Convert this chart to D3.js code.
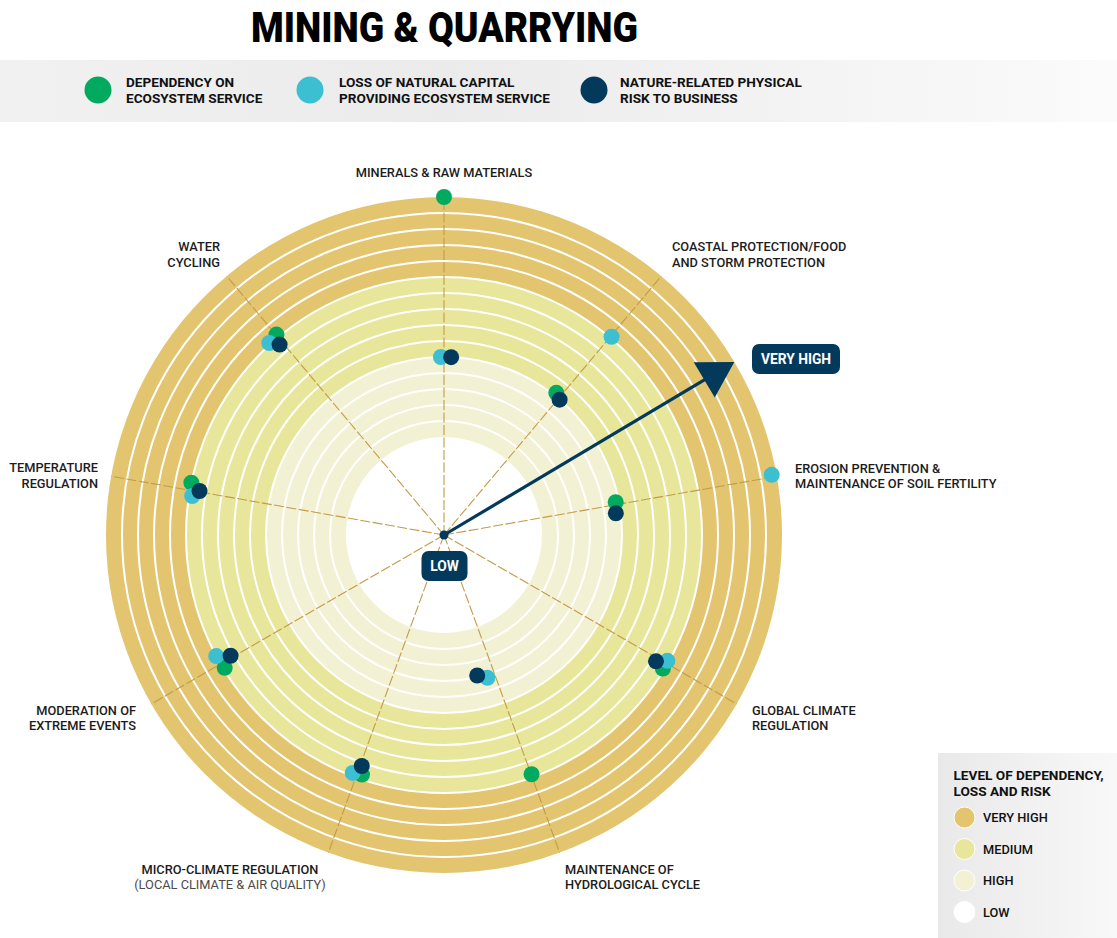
<!DOCTYPE html>
<html>
<head>
<meta charset="utf-8">
<script src="https://cdn.jsdelivr.net/npm/d3@7"></script>
<style>
  html, body { margin: 0; padding: 0; background: #ffffff; }
  svg { display: block; font-family: Roboto, "Noto Sans", Arial, sans-serif; }
</style>
</head>
<body>
<svg id="chart" width="1117" height="938"></svg>
<script>
// ---- Data -------------------------------------------------------------
const title = "MINING & QUARRYING";

// Ecosystem services, clockwise from the top
const categories = [
  ["MINERALS & RAW MATERIALS"],
  ["COASTAL PROTECTION/FOOD", "AND STORM PROTECTION"],
  ["EROSION PREVENTION &", "MAINTENANCE OF SOIL FERTILITY"],
  ["GLOBAL CLIMATE", "REGULATION"],
  ["MAINTENANCE OF", "HYDROLOGICAL CYCLE"],
  ["MICRO-CLIMATE REGULATION", "(LOCAL CLIMATE & AIR QUALITY)"],
  ["MODERATION OF", "EXTREME EVENTS"],
  ["TEMPERATURE", "REGULATION"],
  ["WATER", "CYCLING"]
];

// Level on the 0–15 ring scale (0 = edge of LOW core, 15 = outer edge of VERY HIGH)
const dependency = [15.0, 5.2, 4.8, 9.9, 9.8, 9.7, 9.9, 10.0, 10.2];
const loss       = [5.0, 10.1, 14.7, 9.9, 3.2, 9.8, 10.0, 9.8, 10.1];
const risk       = [5.0, 5.0, 4.7, 9.3, 2.9, 9.2, 9.2, 9.4, 9.6];

// Small angular spread (degrees) so overlapping markers stay visible
const dependencyShift = [0.0, -1.7, -0.8, 1.4, -0.1, -1.1, -1.2, 1.7, 0.1];
const lossShift       = [-1.0, 0.2, -0.4, -0.6, 3.1, 1.0, 2.0, -1.2, -2.3];
const riskShift       = [2.3, 0.5, 2.8, 0.8, 6.7, -0.4, 0.5, 0.2, -0.8];

const seriesNames = [
  ["DEPENDENCY ON", "ECOSYSTEM SERVICE"],
  ["LOSS OF NATURAL CAPITAL", "PROVIDING ECOSYSTEM SERVICE"],
  ["NATURE-RELATED PHYSICAL", "RISK TO BUSINESS"]
];

// Level bands on the ring scale
const bandNames = ["HIGH", "MEDIUM", "VERY HIGH"];
const bandStarts = [0, 5, 10];
const bandEnds = [5, 10, 15];
const levelLegend = ["VERY HIGH", "MEDIUM", "HIGH", "LOW"];
const legendTitle = ["LEVEL OF DEPENDENCY,", "LOSS AND RISK"];

// ---- Styles -----------------------------------------------------------
const seriesColors = ["#02aa60", "#3cbfd1", "#033a5c"];
const bandColors = { "LOW": "#ffffff", "HIGH": "#f3f1d3", "MEDIUM": "#e8e69a", "VERY HIGH": "#e3c56f" };
const navy = "#033a5c";
const spokeColor = "#c49b48";

const svg = d3.select("#chart");
const cx = 444, cy = 535;
const r = d3.scaleLinear().domain([0, 15]).range([98, 338]);
const angle = d3.scaleLinear().domain([0, categories.length]).range([0, 360]);

const polar = (deg, rad) => {
  const a = (deg - 90) * Math.PI / 180;
  return [cx + rad * Math.cos(a), cy + rad * Math.sin(a)];
};

// ---- Title ------------------------------------------------------------
svg.append("text")
  .attr("x", 251).attr("y", 42)
  .attr("textLength", 387).attr("lengthAdjust", "spacingAndGlyphs")
  .style("font-size", "42px").style("font-weight", 900).style("fill", "#000")
  .text(title);

// ---- Series legend band ----------------------------------------------
const defs = svg.append("defs");
const bandGrad = defs.append("linearGradient").attr("id", "bandGrad");
bandGrad.append("stop").attr("offset", "0%").attr("stop-color", "#f1f1f1");
bandGrad.append("stop").attr("offset", "40%").attr("stop-color", "#ebebeb");
bandGrad.append("stop").attr("offset", "100%").attr("stop-color", "#fbfbfb");
svg.append("rect").attr("x", 0).attr("y", 60).attr("width", 1117).attr("height", 62)
  .attr("fill", "url(#bandGrad)");

const legendX = [98, 310, 594];
const legendTextX = [126, 339, 620];
seriesNames.forEach((lines, i) => {
  svg.append("circle").attr("cx", legendX[i]).attr("cy", 90).attr("r", 13.5)
    .attr("fill", seriesColors[i]);
  const t = svg.append("text").attr("x", legendTextX[i]).attr("y", 86.5)
    .style("font-size", "13.6px").style("font-weight", 700).style("fill", "#111");
  lines.forEach((l, j) => t.append("tspan").attr("x", legendTextX[i]).attr("dy", j ? 16 : 0).text(l));
});

// ---- Rings ------------------------------------------------------------
const g = svg.append("g");
bandNames.slice().reverse().forEach((name) => {
  const k = bandNames.indexOf(name);
  g.append("circle").attr("cx", cx).attr("cy", cy).attr("r", r(bandEnds[k]))
    .attr("fill", bandColors[name]);
});
g.append("circle").attr("cx", cx).attr("cy", cy).attr("r", r(bandStarts[0]))
  .attr("fill", bandColors["LOW"]);

// thin white sub-rings
g.selectAll("circle.sub").data(d3.range(1, 15)).join("circle").attr("class", "sub")
  .attr("cx", cx).attr("cy", cy).attr("r", d => r(d))
  .attr("fill", "none").attr("stroke", "#ffffff").attr("stroke-width", 2);

// spokes
g.selectAll("line.spoke").data(categories).join("line").attr("class", "spoke")
  .attr("x1", cx).attr("y1", cy)
  .attr("x2", (d, i) => polar(angle(i), r(15))[0])
  .attr("y2", (d, i) => polar(angle(i), r(15))[1])
  .attr("stroke", spokeColor).attr("stroke-width", 1.1).attr("stroke-dasharray", "10,2.5");

// ---- Arrow from LOW to VERY HIGH -------------------------------------
const arrowDeg = 59.2;
const tip = polar(arrowDeg, r(15));
const headLen = 35, headHalf = 20.5;
const base = polar(arrowDeg, r(15) - headLen);
const ux = (tip[0] - cx) / r(15), uy = (tip[1] - cy) / r(15);
g.append("line").attr("x1", cx).attr("y1", cy)
  .attr("x2", base[0] + ux * 4).attr("y2", base[1] + uy * 4)
  .attr("stroke", navy).attr("stroke-width", 3.2);
g.append("polygon")
  .attr("points", [
    tip,
    [base[0] - uy * headHalf, base[1] + ux * headHalf],
    [base[0] + uy * headHalf, base[1] - ux * headHalf]
  ].map(p => p.join(",")).join(" "))
  .attr("fill", navy);
g.append("circle").attr("cx", cx).attr("cy", cy).attr("r", 4.5).attr("fill", navy);

// ---- Data markers -----------------------------------------------------
const series = [
  { values: dependency, shift: dependencyShift, color: seriesColors[0] },
  { values: loss, shift: lossShift, color: seriesColors[1] },
  { values: risk, shift: riskShift, color: seriesColors[2] }
];
series.forEach(s => {
  g.selectAll(null).data(s.values).join("circle")
    .attr("cx", (v, i) => polar(angle(i) + s.shift[i], r(v))[0])
    .attr("cy", (v, i) => polar(angle(i) + s.shift[i], r(v))[1])
    .attr("r", 8).attr("fill", s.color);
});

// ---- Scale end tags ---------------------------------------------------
function tag(x, y, w, h, label) {
  svg.append("rect").attr("x", x).attr("y", y).attr("width", w).attr("height", h)
    .attr("rx", 7).attr("fill", navy);
  svg.append("text").attr("x", x + w / 2).attr("y", y + h / 2 + 4.8)
    .attr("text-anchor", "middle").style("font-size", "13.8px").style("font-weight", 700)
    .style("fill", "#fff").text(label);
}
tag(421.5, 551, 46, 30, "LOW");
tag(752, 344, 88, 30, "VERY HIGH");

// ---- Category labels --------------------------------------------------
const labelLayout = [
  { x: 444, y: 177, anchor: "middle" },
  { x: 672, y: 251, anchor: "start" },
  { x: 795, y: 472.5, anchor: "start" },
  { x: 752, y: 714.5, anchor: "start" },
  { x: 565, y: 873.5, anchor: "start" },
  { x: 230, y: 873.5, anchor: "middle" },
  { x: 136, y: 714.5, anchor: "end" },
  { x: 98, y: 472, anchor: "end" },
  { x: 220, y: 251, anchor: "end" }
];
categories.forEach((lines, i) => {
  const L = labelLayout[i];
  const t = svg.append("text").attr("x", L.x).attr("y", L.y).attr("text-anchor", L.anchor)
    .style("font-size", "12.8px").style("font-weight", 500).style("fill", "#1c1c1c");
  lines.forEach((l, j) => {
    const ts = t.append("tspan").attr("x", L.x).attr("dy", j ? 15.8 : 0).text(l);
    if (l.startsWith("(")) ts.style("font-weight", 400).style("fill", "#4a4a4a");
  });
});

// ---- Level legend -----------------------------------------------------
const boxGrad = defs.append("linearGradient").attr("id", "boxGrad");
boxGrad.append("stop").attr("offset", "0%").attr("stop-color", "#e9e9e9");
boxGrad.append("stop").attr("offset", "100%").attr("stop-color", "#f8f8f8");
svg.append("rect").attr("x", 938).attr("y", 753).attr("width", 179).attr("height", 185)
  .attr("fill", "url(#boxGrad)");
const lt = svg.append("text").attr("x", 953.5).attr("y", 780)
  .style("font-size", "13.6px").style("font-weight", 700).style("fill", "#111");
legendTitle.forEach((l, j) => lt.append("tspan").attr("x", 953.5).attr("dy", j ? 16 : 0).text(l));
levelLegend.forEach((name, i) => {
  const y = 817.5 + i * 31.5;
  svg.append("circle").attr("cx", 964.5).attr("cy", y).attr("r", 10.5)
    .attr("fill", bandColors[name]).attr("stroke", "#ffffff").attr("stroke-width", 1);
  svg.append("text").attr("x", 983).attr("y", y + 4.5)
    .style("font-size", "12.8px").style("font-weight", 500).style("fill", "#111").text(name);
});
</script>
</body>
</html>
